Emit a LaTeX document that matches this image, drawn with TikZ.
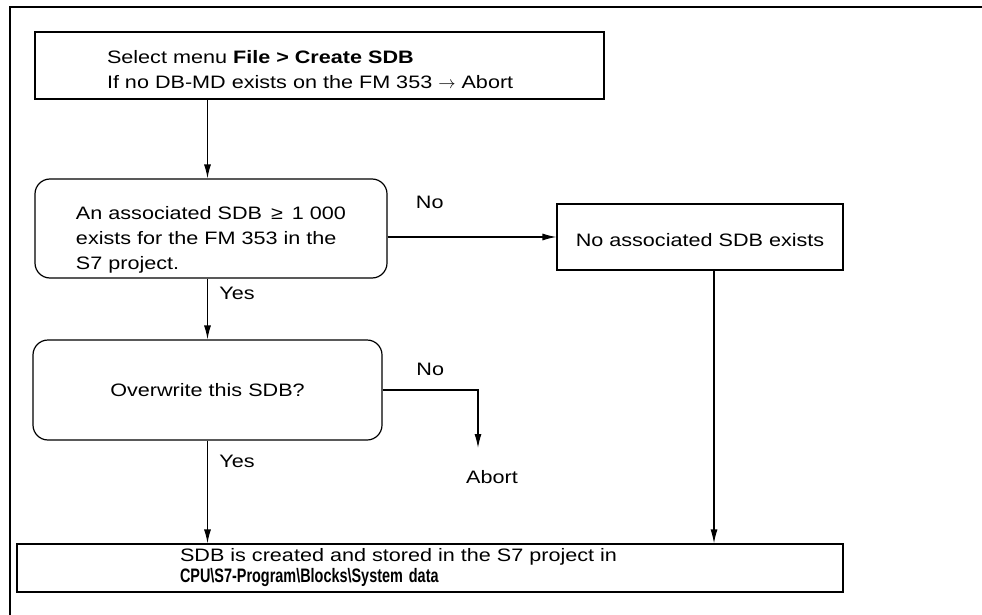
\documentclass[tikz,border=0pt]{standalone}
\usepackage{fontspec}
\setmainfont{Liberation Sans}[FakeStretch=1.2]
\newfontfamily\narrowfont{Liberation Sans}[FakeStretch=0.74]
\usetikzlibrary{arrows.meta,positioning}
\setlength{\parindent}{0pt}
\newcommand\lowered[1]{\rule{0pt}{#1pt}}
\tikzset{
%Define standard arrow tip
>={Latex[length=14pt,width=7pt]},
%Define styles for the boxes
every node/.style={font=\fontsize{18}{25}\selectfont},
plain box/.style={draw, line width=1.2pt, align=left, inner sep=0pt},
query box/.style={plain box, rounded corners=15pt},
flow/.style={line width=1.2pt, ->},
}
\begin{document}
\begin{tikzpicture}[x=1pt,y=-1pt]
    \useasboundingbox (0,0) rectangle (982,615);
    %Frame
    \draw[line width=1.3pt] (10,615) -- (10,7) -- (982,7);
    %Boxes
    \node[plain box, text width=425pt, inner xsep=72pt, minimum height=67pt] (select) at (319.5,65.5)
      {\lowered{21}Select menu \textbf{File > Create SDB}\\If no DB-MD exists on the FM 353 $\rightarrow$ Abort};
    \node[query box, minimum width=352pt, minimum height=99pt] (exists) at (211,228.5)
      {\lowered{35}An associated SDB \,≥\, 1 000\\exists for the FM 353 in the\\S7 project.};
    \node[plain box, minimum width=286pt, minimum height=66pt] (none) at (700,237)
      {\lowered{19}No associated SDB exists};
    \node[query box, minimum width=349pt, minimum height=100pt] (overwrite) at (207.5,390)
      {Overwrite this SDB?};
    \node[plain box, text width=500pt, inner xsep=163pt, minimum height=48pt,
      font=\fontsize{18}{21}\selectfont] (stored) at (430,568)
      {SDB is created and stored in the S7 project in\\{\narrowfont\bfseries\fontsize{19.5}{21}\selectfont CPU\textbackslash S7-Program\textbackslash Blocks\textbackslash System data}};
    \node (abort) at (492,477) {Abort};
    \coordinate (abort tip) at (478,448);
    %Connectors
    \draw[flow] (select.south -| overwrite.north) -- (exists.north -| overwrite.north);
    \draw[flow] (exists.south -| overwrite.north) -- (overwrite.north)
      node[pos=0.25, right=8pt] {Yes};
    \draw[flow] (exists.east |- none.west) -- (none.west)
      node[pos=0.25, above=24pt] {No};
    \draw[flow] (overwrite.east) -| (abort tip)
      node[pos=0.25, above=10pt] {No};
    \draw[flow] (overwrite.south) -- (overwrite.south |- stored.north)
      node[pos=0.2, right=8pt] {Yes};
    \draw[flow] ([xshift=14pt]none.south) -- ([xshift=14pt]none.south |- stored.north);
\end{tikzpicture}
\end{document}
